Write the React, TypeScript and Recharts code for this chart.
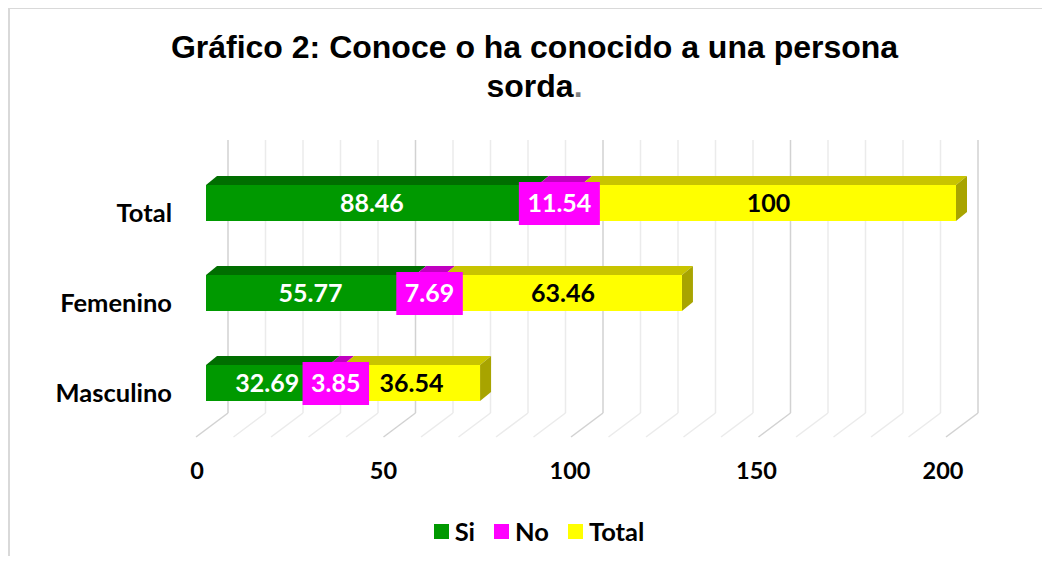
import React from 'react'
import { BarChart, Bar, XAxis, YAxis, CartesianGrid, Legend, LabelList } from 'recharts'

const categories = ['Total', 'Femenino', 'Masculino']
const siValues = [88.46, 55.77, 32.69]
const noValues = [11.54, 7.69, 3.85]
const totalValues = [100, 63.46, 36.54]
const axisTicks = [0, 50, 100, 150, 200]
const gridTicks = [0, 10, 20, 30, 40, 50, 60, 70, 80, 90, 100, 110, 120, 130, 140, 150, 160, 170, 180, 190, 200]

const series = [
  { key: 'si', name: 'Si', front: '#009900', top: '#006e00', side: '#005800', text: '#ffffff', box: false },
  { key: 'no', name: 'No', front: '#ff00ff', top: '#c000c0', side: '#a000a0', text: '#ffffff', box: true },
  { key: 'total', name: 'Total', front: '#ffff00', top: '#c8c400', side: '#a8a400', text: '#000000', box: false },
]

const data = categories.map((name, i) => ({
  name,
  si: siValues[i],
  no: noValues[i],
  total: totalValues[i],
}))

const FONT = 'Lato, "Open Sans", sans-serif'
const DX = 11
const DY = 9

const makeShape = (s: any, last: boolean) => (props: any) => {
  const { x, y, width, height } = props
  return (
    <g>
      <polygon points={`${x},${y} ${x + DX},${y - DY} ${x + width + DX},${y - DY} ${x + width},${y}`} fill={s.top} />
      {last && (
        <polygon
          points={`${x + width},${y} ${x + width + DX},${y - DY} ${x + width + DX},${y + height - DY} ${x + width},${y + height}`}
          fill={s.side}
        />
      )}
      <rect x={x} y={y} width={width} height={height} fill={s.front} />
    </g>
  )
}

const makeLabel = (s: any) => (props: any) => {
  const { x, y, width, height, value } = props
  const text = String(value)
  const tw = text.length * 14.5 - (text.includes('.') ? 8.5 : 0)
  const cx = x + width / 2
  const cy = y + height / 2
  return (
    <g>
      {s.box && <rect x={cx - tw / 2 - 8.5} y={cy - 21} width={tw + 17} height={43} fill={s.front} />}
      <text x={cx} y={cy} dy="0.36em" textAnchor="middle" fill={s.text} fontFamily={FONT} fontWeight={700} fontSize={25}>
        {text}
      </text>
    </g>
  )
}

const gridLine = (props: any) => {
  const { x1, y1, y2, index } = props
  const major = index % 5 === 0
  const stroke = major ? '#d2d2d2' : '#ebebeb'
  return (
    <g key={`grid-${index}`}>
      <line x1={x1 + 22} y1={y1 - 18} x2={x1 + 22} y2={y2 - 15} stroke={stroke} strokeWidth={1.5} />
      <line x1={x1 + 22} y1={y2 - 15} x2={x1 - 10} y2={y2 + 9} stroke={stroke} strokeWidth={1.5} />
    </g>
  )
}

const XTick = (props: any) => {
  const { x, y, payload } = props
  if (!axisTicks.includes(payload.value)) return <g />
  return (
    <text
      x={x - 9 - payload.value * 0.02}
      y={y + 51}
      textAnchor="middle"
      fill="#000"
      fontFamily={FONT}
      fontWeight={700}
      fontSize={23.5}
    >
      {payload.value}
    </text>
  )
}

const YTick = (props: any) => {
  const { x, y, payload } = props
  return (
    <text x={x} y={y + 10} dy="0.355em" textAnchor="end" fill="#000" fontFamily={FONT} fontWeight={700} fontSize={25.5}>
      {payload.value}
    </text>
  )
}

const renderLegend = () => (
  <div
    style={{
      display: 'flex',
      justifyContent: 'center',
      alignItems: 'center',
      gap: 19,
      height: 30,
      fontFamily: FONT,
      fontWeight: 700,
      fontSize: 25.5,
      color: '#000',
    }}
  >
    {series.map((s) => (
      <span key={s.key} style={{ display: 'flex', alignItems: 'center' }}>
        <span style={{ display: 'inline-block', width: 15, height: 15, background: s.front, marginRight: 6 }} />
        {s.name}
      </span>
    ))}
  </div>
)

export default function App() {
  return (
    <div style={{ position: 'relative', margin: -8, width: 1050, height: 564, overflow: 'hidden', background: '#fff' }}>
      <div
        style={{
          position: 'absolute',
          left: 8,
          top: 7,
          width: 1100,
          height: 600,
          border: '2px solid #d9d9d9',
          boxSizing: 'border-box',
        }}
      />
      <div
        style={{
          position: 'absolute',
          left: 0,
          top: 28,
          width: 1069,
          textAlign: 'center',
          fontFamily: '"Liberation Sans", Arial, sans-serif',
          fontWeight: 700,
          fontSize: 32,
          lineHeight: '39px',
          color: '#000',
        }}
      >
        Gráfico 2: Conoce o ha conocido a una persona
        <br />
        sorda<span style={{ color: '#7f7f7f' }}>.</span>
      </div>
      <div style={{ position: 'absolute', left: 0, top: 0 }}>
        <BarChart
          width={1050}
          height={564}
          data={data}
          layout="vertical"
          margin={{ top: 158, right: 94, bottom: 46, left: 0 }}
        >
          <CartesianGrid horizontal={false} vertical={gridLine} />
          <XAxis
            type="number"
            domain={[0, 200]}
            ticks={gridTicks}
            interval={0}
            axisLine={false}
            tickLine={false}
            tickSize={0}
            tickMargin={0}
            height={60}
            tick={<XTick />}
          />
          <YAxis
            type="category"
            dataKey="name"
            width={206}
            axisLine={false}
            tickLine={false}
            tickSize={0}
            tickMargin={34}
            tick={<YTick />}
          />
          <Legend content={renderLegend} wrapperStyle={{ left: 0, width: 1078, top: 516, bottom: 'auto' }} />
          {series.map((s, i) => (
            <Bar
              key={s.key}
              dataKey={s.key}
              name={s.name}
              stackId="a"
              barSize={36}
              fill={s.front}
              shape={makeShape(s, i === series.length - 1)}
              isAnimationActive={false}
            >
              <LabelList dataKey={s.key} content={makeLabel(s)} />
            </Bar>
          ))}
        </BarChart>
      </div>
    </div>
  )
}
